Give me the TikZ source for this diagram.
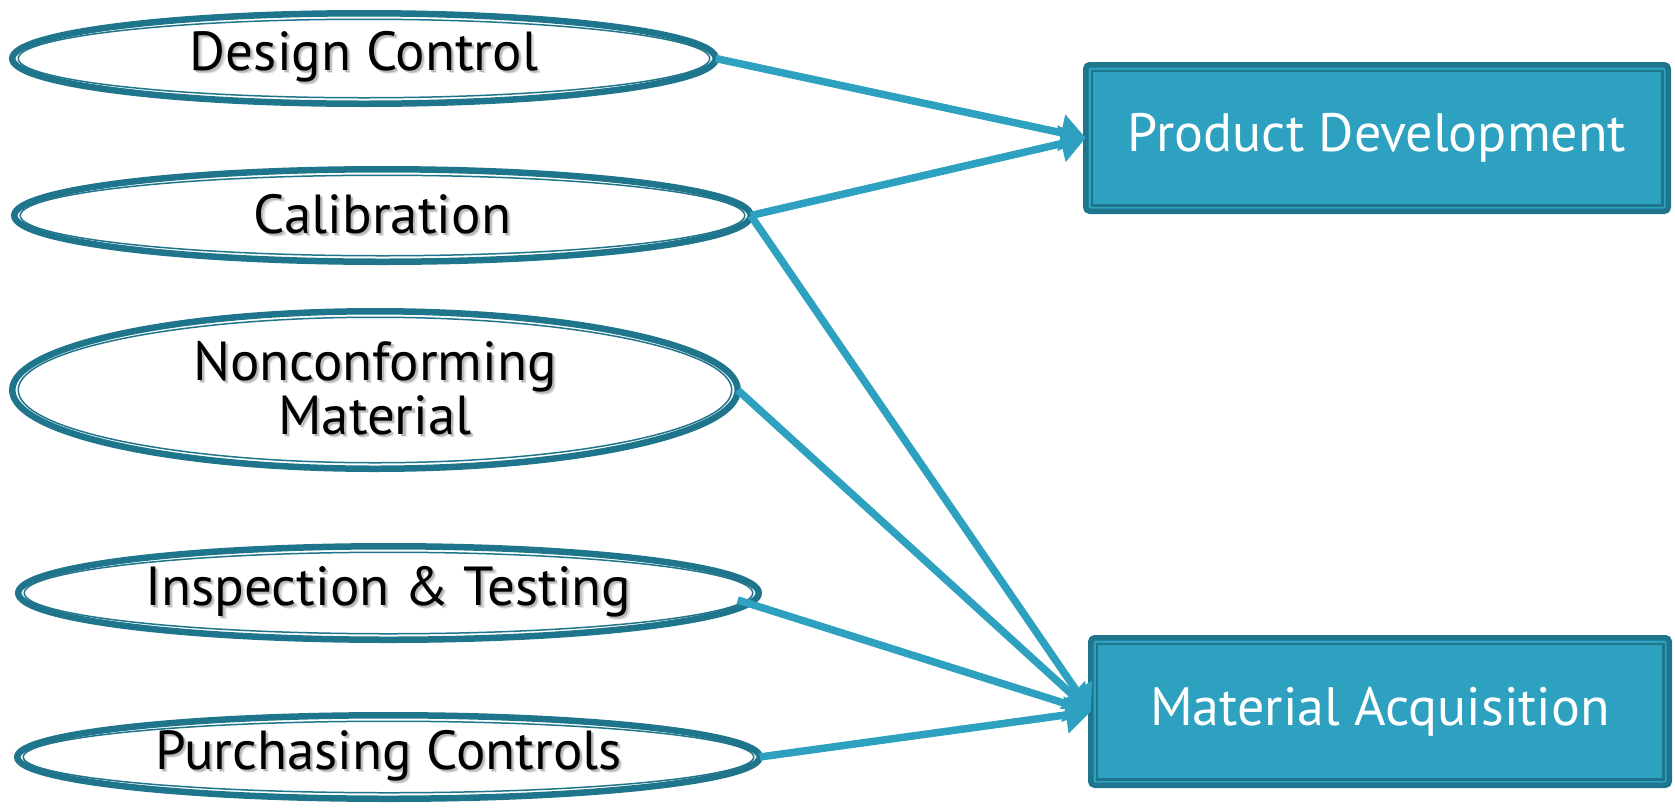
\documentclass[tikz,border=0pt]{standalone}
\usepackage{fontspec}
\setmainfont{PT Sans}
\usetikzlibrary{arrows.meta,calc,shapes.geometric}
\definecolor{ringteal}{RGB}{31,117,139}
\definecolor{flowteal}{RGB}{45,161,191}
% text with a soft grey drop shadow behind it
\newcommand\shadowed[1]{\leavevmode
  \rlap{\kern3.2pt\raisebox{-3.2pt}{\textcolor{black!12}{#1}}}%
  \rlap{\kern2pt\raisebox{-2pt}{\textcolor{black!28}{#1}}}#1}

\begin{document}
\begin{tikzpicture}[x=1pt,y=-1pt,
  topic/.style={ellipse, draw=ringteal, line width=6.5pt, fill=white,
    inner sep=0pt, outer sep=0pt, align=center,
    font=\fontsize{55}{54}\selectfont},
  ring/.style={draw=ringteal, line width=1.5pt},
  goal/.style={rectangle, rounded corners=4pt, draw=ringteal, line width=5.5pt,
    fill=flowteal, text=white, inner sep=0pt, outer sep=0pt,
    font=\fontsize{54}{54}\selectfont},
  goalinner/.style={draw=ringteal, line width=2.5pt},
  flow/.style={draw=flowteal, line width=7.5pt,
    -{Triangle[width=36pt,length=25pt]}}]
\useasboundingbox (0,0) rectangle (1675,807);

% source topics
\node[topic, minimum width=703.5pt, minimum height=90.5pt] (dc) at (364,58.5)
  {\shadowed{Design Control}};
\node[topic, minimum width=736.5pt, minimum height=92.5pt] (cal) at (382.5,215.5)
  {\shadowed{Calibration}};
\node[topic, minimum width=725.5pt, minimum height=157.5pt] (nc) at (375,390)
  {\shadowed{Nonconforming}\\\shadowed{Material}};
\node[topic, minimum width=740.5pt, minimum height=93.5pt] (ins) at (388.5,593)
  {\shadowed{Inspection \& Testing}};
\node[topic, minimum width=742.5pt, minimum height=83.5pt] (pc) at (388.5,757)
  {\shadowed{Purchasing Controls}};

% thin inner rings
\draw[ring] (dc.center) ellipse [x radius=345.75pt, y radius=39.25pt];
\draw[ring] (cal.center) ellipse [x radius=362.25pt, y radius=40.25pt];
\draw[ring] (nc.center) ellipse [x radius=356.75pt, y radius=72.75pt];
\draw[ring] (ins.center) ellipse [x radius=364.25pt, y radius=40.75pt];
\draw[ring] (pc.center) ellipse [x radius=365.25pt, y radius=35.75pt];

% target areas
\node[goal, minimum width=582.5pt, minimum height=146.5pt] (pd) at (1377,138)
  {Product Development};
\node[goal, minimum width=578.5pt, minimum height=147.5pt] (ma) at (1380,711.5)
  {Material Acquisition};
\draw[goalinner] ($(pd.north west)+(6,6)$) rectangle ($(pd.south east)+(-6,-6)$);
\draw[goalinner] ($(ma.north west)+(6,6)$) rectangle ($(ma.south east)+(-6,-6)$);

% connectors
\coordinate (insout) at ($(ins.east)+(-21,7)$);
\draw[flow] (dc.east) -- (pd.west);
\draw[flow] (cal.east) -- (pd.west);
\draw[flow] (cal.east) -- (ma.west);
\draw[flow] (nc.east) -- (ma.west);
\draw[flow] (insout) -- (ma.west);
\draw[flow] (pc.east) -- (ma.west);
\end{tikzpicture}
\end{document}
